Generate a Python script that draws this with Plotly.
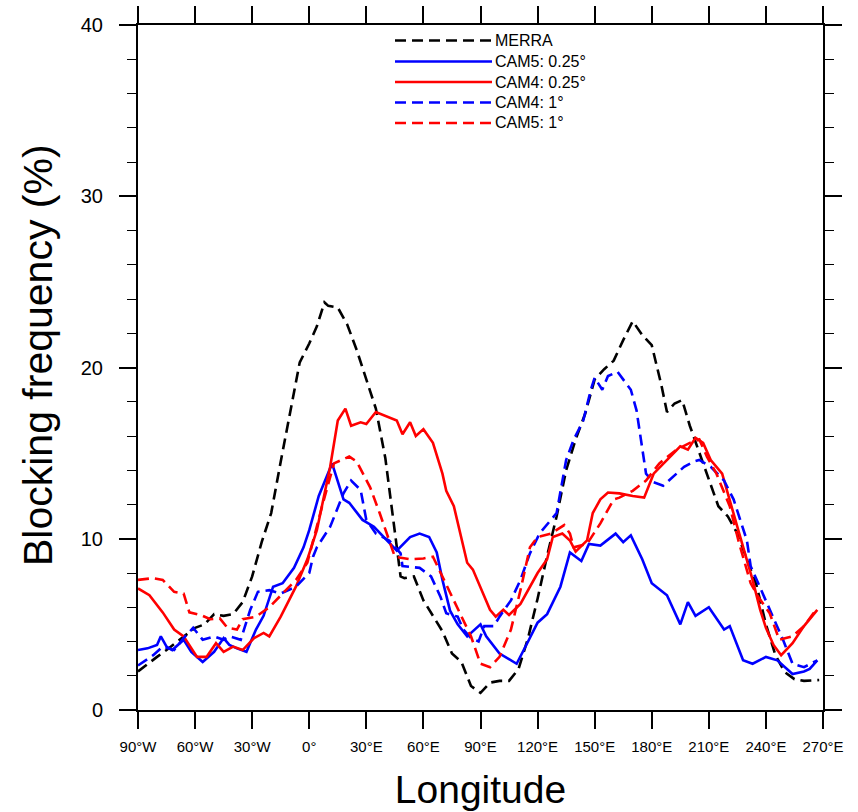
import plotly.graph_objects as go

# ---------------- data (longitude in degrees, -90 = 90W) ----------------
merra_lon = [-90, -85, -80, -75, -70, -65, -60, -55, -50, -45, -40, -35, -30, -25, -20, -15, -10, -5,
             0, 4, 8, 10, 15, 20, 25, 30, 35, 40, 45, 48, 50, 55, 60, 65, 70, 75, 80, 85, 90, 95,
             100, 105, 110, 115, 120, 125, 130, 135, 140, 145, 150, 155, 160, 165, 170, 175, 180,
             185, 188, 192, 196, 200, 205, 210, 215, 220, 225, 230, 235, 240, 245, 250, 255, 260, 268]
merra_val = [2.25, 2.7, 3.1, 3.5, 3.95, 4.4, 4.8, 5.0, 5.6, 5.5, 5.6, 6.3, 7.8, 9.8, 11.5, 14.5, 17.3, 20.3,
             21.4, 22.4, 23.8, 23.6, 23.5, 22.5, 21.0, 19.3, 17.6, 14.7, 10.3, 7.8, 7.7, 7.8, 6.4, 5.5, 4.6, 3.3,
             2.8, 1.4, 1.0, 1.6, 1.7, 1.7, 2.4, 4.2, 6.5, 9.0, 11.3, 14.0, 15.8, 17.3, 19.3, 19.9, 20.4, 21.6,
             22.7, 21.9, 21.3, 19.0, 17.4, 17.9, 18.1, 16.6, 15.0, 13.5, 11.9, 11.3, 10.3, 8.8, 7.3, 5.0, 3.2,
             2.2, 1.8, 1.7, 1.75]

cam5_025_lon = [-90, -85, -80, -78, -75, -72, -66, -62, -56, -50, -45, -42, -38, -33, -28, -24, -19, -14,
                -8, -3, 0, 5, 12, 18, 21, 28, 34, 41, 46, 53, 58, 63, 67, 70, 74, 78, 83, 90, 93, 100,
                109, 115, 120, 125, 132, 137, 143, 147, 153, 161, 165, 169, 175, 180, 188, 195, 199,
                203, 210, 218, 221, 228, 233, 240, 246, 254, 260, 263, 267]
cam5_025_val = [3.5, 3.6, 3.8, 4.3, 3.7, 3.5, 4.1, 3.4, 2.8, 3.4, 4.2, 3.8, 3.6, 3.4, 4.7, 5.5, 7.2, 7.4,
                8.3, 9.5, 10.5, 12.5, 14.4, 12.3, 12.1, 11.1, 10.7, 9.9, 9.3, 10.1, 10.3, 10.1, 9.2, 7.6,
                5.8, 5.0, 4.3, 5.0, 4.3, 3.3, 2.7, 4.0, 5.1, 5.6, 7.2, 9.2, 8.7, 9.7, 9.6, 10.3, 9.8, 10.2,
                8.8, 7.4, 6.7, 5.0, 6.3, 5.5, 6.0, 4.7, 4.9, 2.9, 2.7, 3.1, 2.9, 2.1, 2.25, 2.4, 2.9]

cam4_025_lon = [-90, -84, -77, -71, -66, -59, -54, -49, -45, -40, -35, -29, -24, -21, -15, -10, -7, -1,
                2, 4, 11, 15, 19, 22, 27, 30, 35, 46, 49, 53, 56, 60, 65, 70, 72, 76, 83, 86, 95, 98,
                102, 105, 111, 115, 120, 125, 128, 133, 137, 140, 146, 149, 153, 157, 163, 170, 176,
                181, 188, 195, 199, 203, 207, 211, 217, 221, 226, 233, 237, 240, 244, 248, 254, 260, 267]
cam4_025_val = [7.1, 6.7, 5.7, 4.7, 4.3, 3.1, 3.1, 3.9, 3.4, 3.7, 3.5, 4.2, 4.5, 4.3, 5.45, 6.6, 7.2, 8.8,
                9.9, 10.5, 14.2, 16.9, 17.6, 16.6, 16.8, 16.7, 17.4, 16.9, 16.1, 16.8, 16.0, 16.4, 15.6,
                13.8, 12.8, 11.9, 8.6, 8.2, 5.85, 5.45, 5.85, 5.55, 6.2, 7.0, 8.0, 8.8, 10.1, 10.3, 9.9,
                9.25, 9.9, 11.5, 12.3, 12.7, 12.65, 12.5, 12.4, 13.8, 14.6, 15.4, 15.2, 15.9, 15.6, 14.6,
                13.8, 12.3, 10.3, 7.6, 5.85, 4.8, 3.8, 3.2, 3.9, 4.9, 5.85]

cam4_1_lon = [-90, -82, -77, -71, -66, -61, -56, -50, -45, -42, -36, -31, -27, -21, -15, -7, 0, 2, 4,
              11, 18, 22, 27, 30, 35, 42, 48, 49, 58, 64, 69, 72, 78, 81, 85, 89, 92, 97, 100, 106,
              111, 116, 121, 127, 130, 135, 139, 144, 148, 150, 154, 157, 162, 169, 172, 177, 181,
              186, 191, 197, 202, 205, 211, 218, 223, 230, 232, 242, 249, 254, 260, 267]
cam4_1_val = [2.6, 3.2, 3.7, 3.5, 4.2, 4.8, 4.1, 4.3, 4.1, 4.3, 4.1, 5.85, 6.9, 7.0, 6.8, 7.2, 8.0, 8.95,
              9.5, 10.7, 12.65, 13.4, 12.85, 11.1, 10.3, 9.9, 9.15, 8.4, 8.3, 7.8, 6.6, 5.65, 5.45, 4.7,
              4.2, 4.0, 4.9, 4.9, 5.45, 6.4, 7.6, 9.15, 10.3, 11.1, 11.5, 14.6, 15.8, 16.9, 18.7, 19.4,
              18.7, 19.5, 19.75, 18.7, 17.5, 13.8, 13.3, 13.1, 13.6, 14.2, 14.5, 14.6, 14.2, 13.4, 12.3,
              9.9, 8.4, 5.85, 4.1, 2.7, 2.5, 2.9]

cam5_1_lon = [-90, -82, -77, -71, -66, -63, -57, -52, -47, -43, -38, -35, -28, -21, -14, -7, -1, 2, 7,
              13, 21, 25, 32, 37, 42, 45, 53, 60, 65, 70, 74, 79, 85, 90, 95, 100, 106, 111, 116, 120,
              127, 134, 137, 139, 146, 153, 160, 163, 170, 177, 184, 193, 200, 205, 209, 214, 221, 226,
              232, 236, 242, 247, 254, 260, 265, 267]
cam5_1_val = [7.6, 7.7, 7.6, 6.9, 6.8, 5.7, 5.55, 5.3, 5.35, 4.8, 4.7, 5.3, 5.45, 6.0, 6.8, 7.6, 8.6, 9.9,
              12.0, 14.4, 14.8, 14.5, 13.0, 11.5, 9.9, 8.95, 8.8, 8.85, 8.95, 7.8, 6.8, 5.65, 4.3, 2.7,
              2.5, 3.1, 4.7, 7.0, 9.5, 10.1, 10.3, 10.8, 10.3, 9.5, 9.7, 10.9, 12.3, 12.4, 12.8, 13.4,
              14.4, 15.2, 15.6, 15.8, 14.8, 13.8, 11.9, 9.7, 7.4, 6.6, 5.65, 4.1, 4.3, 4.9, 5.65, 5.85]

series_names = ["MERRA", "CAM5: 0.25°", "CAM4: 0.25°", "CAM4: 1°", "CAM5: 1°"]
series_lon = [merra_lon, cam5_025_lon, cam4_025_lon, cam4_1_lon, cam5_1_lon]
series_val = [merra_val, cam5_025_val, cam4_025_val, cam4_1_val, cam5_1_val]
series_color = ["black", "#0000ff", "#ff0000", "#0000ff", "#ff0000"]
series_dash = ["11px,6px", "solid", "solid", "11px,6px", "11px,6px"]

x_tickvals = [-90, -60, -30, 0, 30, 60, 90, 120, 150, 180, 210, 240, 270]
x_ticktext = ["90°W", "60°W", "30°W", "0°", "30°E", "60°E", "90°E", "120°E", "150°E",
              "180°E", "210°E", "240°E", "270°E"]
y_tickvals = [0, 10, 20, 30, 40]

FONT = "Liberation Sans, Arial, Helvetica, sans-serif"

fig = go.Figure()
for name, lon, val, col, dsh in zip(series_names, series_lon, series_val, series_color, series_dash):
    fig.add_trace(go.Scatter(x=lon, y=val, mode="lines", name=name, showlegend=False,
                             line=dict(color=col, width=2.6, dash=dsh)))

# ---- manual legend (line samples + labels), placed in paper coordinates ----
L, T, W, H = 138, 25, 685, 685
leg_x0, leg_x1 = 395, 492
leg_rows = [40.5, 61.5, 82, 102.5, 123]
for name, col, dsh, ypx in zip(series_names, series_color, series_dash, leg_rows):
    yp = (T + H - ypx) / H
    fig.add_shape(type="line", xref="paper", yref="paper",
                  x0=(leg_x0 - L) / W, x1=(leg_x1 - L) / W, y0=yp, y1=yp,
                  line=dict(color=col, width=2.4, dash=dsh))
    fig.add_annotation(xref="paper", yref="paper", x=(leg_x1 + 1 - L) / W, y=yp,
                       text=name, showarrow=False, xanchor="left", yanchor="middle",
                       font=dict(family=FONT, size=16, color="black"))

# y-axis title as rotated text, centred where the reference puts it
fig.add_annotation(xref="paper", yref="paper", x=(38 - L) / W, y=(T + H - 355) / H,
                   text="Blocking frequency (%)", textangle=-90, showarrow=False,
                   xanchor="center", yanchor="middle",
                   font=dict(family=FONT, size=41, color="black"))

axis_common = dict(showline=True, linecolor="black", linewidth=2, mirror="ticks",
                   ticks="outside", tickcolor="black", tickwidth=2, ticklen=17,
                   showgrid=False, zeroline=False, automargin=False)

fig.update_xaxes(range=[-90, 270], tickvals=x_tickvals, ticktext=x_ticktext,
                 tickfont=dict(family=FONT, size=15, color="black"),
                 ticklabelstandoff=5,
                 title=dict(text="Longitude", font=dict(family=FONT, size=39, color="black"),
                            standoff=22),
                 **axis_common)
fig.update_yaxes(range=[0, 40], tickvals=y_tickvals,
                 tickfont=dict(family=FONT, size=20, color="black"),
                 ticklabelstandoff=12,
                 minor=dict(dtick=2, ticks="outside", ticklen=9, tickwidth=1, tickcolor="black"),
                 **axis_common)

fig.update_layout(width=858, height=812, autosize=False,
                  margin=dict(l=L, r=858 - L - W, t=T, b=812 - T - H),
                  paper_bgcolor="white", plot_bgcolor="white", showlegend=False)

fig.write_html("out.html")
